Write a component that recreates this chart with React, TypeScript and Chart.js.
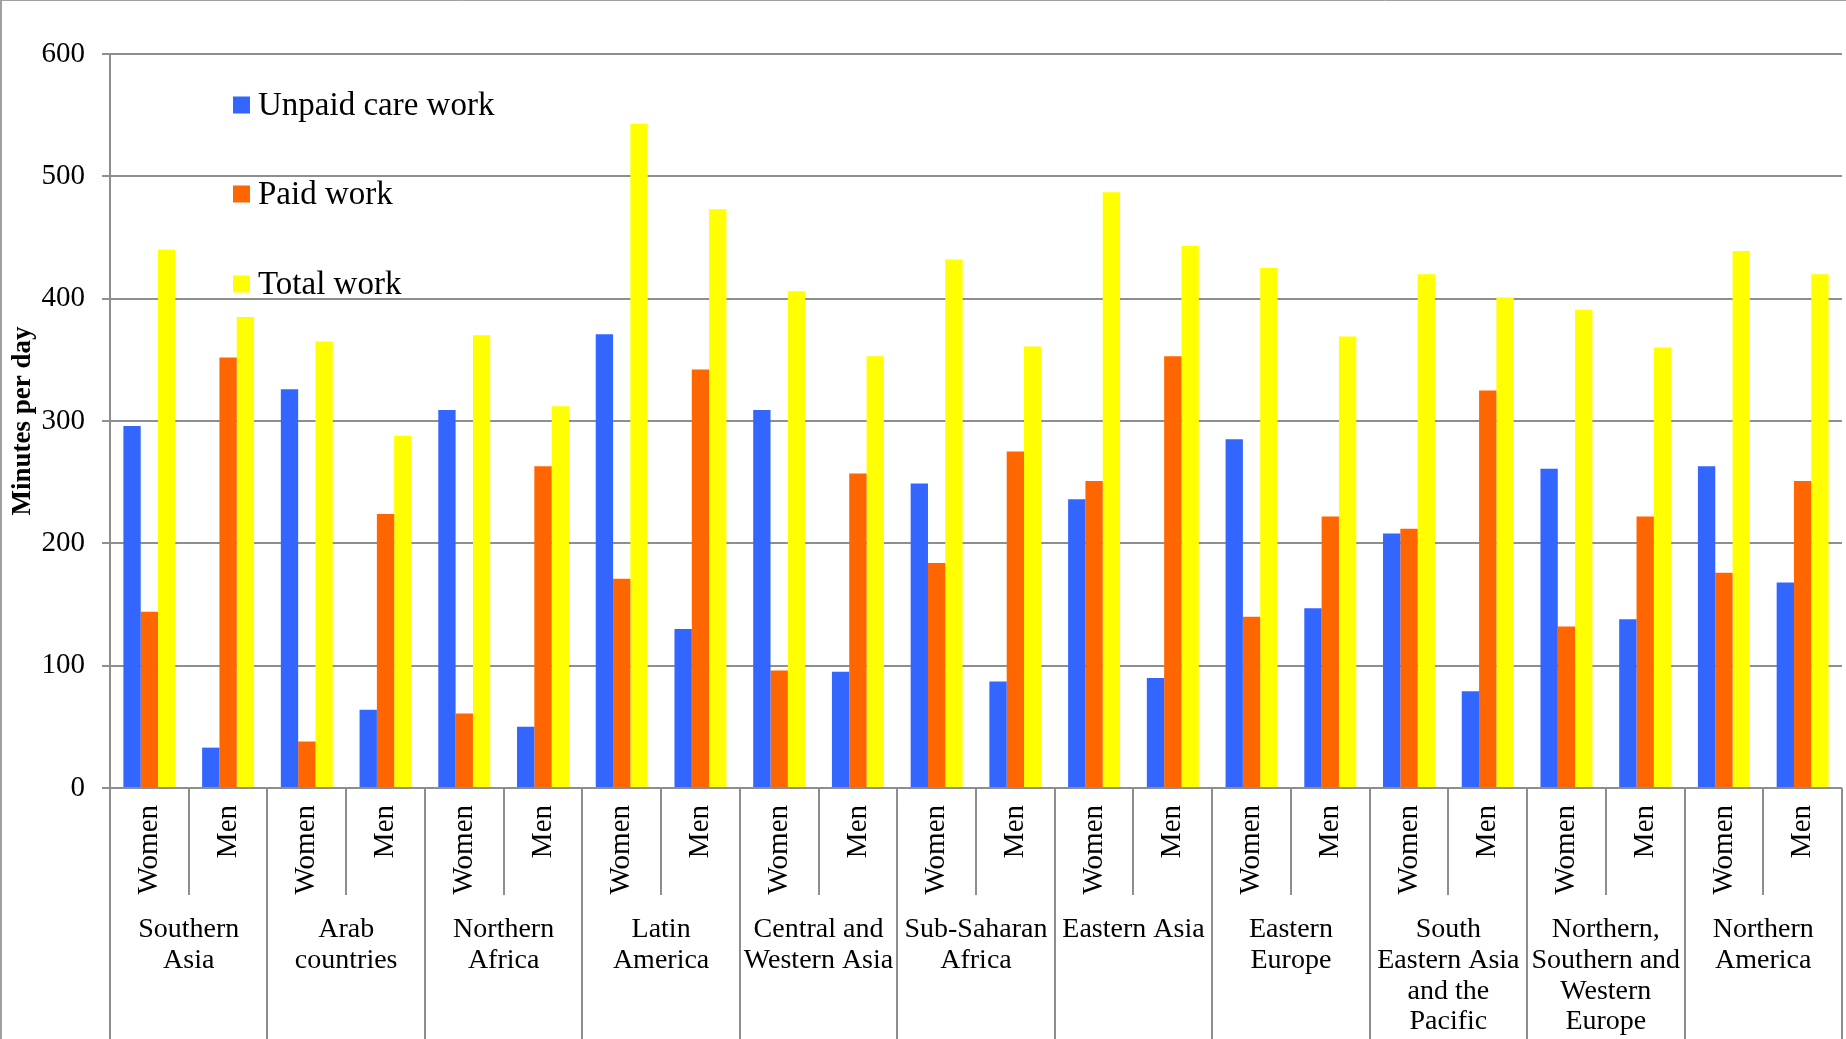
import React, { useEffect, useRef } from "react";
import { Chart, registerables } from "chart.js";

Chart.register(...registerables);

const regionLines: string[][] = [
  ["Southern", "Asia"],
  ["Arab", "countries"],
  ["Northern", "Africa"],
  ["Latin", "America"],
  ["Central and", "Western Asia"],
  ["Sub-Saharan", "Africa"],
  ["Eastern Asia"],
  ["Eastern", "Europe"],
  ["South", "Eastern Asia", "and the", "Pacific"],
  ["Northern,", "Southern and", "Western", "Europe"],
  ["Northern", "America"],
];
const sexes = ["Women", "Men"];

const unpaidCare = [296, 33, 326, 64, 309, 50, 371, 130, 309, 95, 249, 87, 236, 90, 285, 147, 208, 79, 261, 138, 263, 168];
const paidWork = [144, 352, 38, 224, 61, 263, 171, 342, 96, 257, 184, 275, 251, 353, 140, 222, 212, 325, 132, 222, 176, 251];
const totalWork = [440, 385, 365, 288, 370, 312, 543, 473, 406, 353, 432, 361, 487, 443, 425, 369, 420, 401, 391, 360, 439, 420];

const yTicks = [0, 100, 200, 300, 400, 500, 600];

const FONT = "'Liberation Serif', 'Times New Roman', serif";
const GRID = "#8e8e8e";

const axisPlugin = {
  id: "groupedAxis",
  afterDraw(chart: any) {
    const ctx = chart.ctx;
    const x = chart.scales.x;
    const area = chart.chartArea;
    const H = chart.height;
    const n = x.getLabels().length;
    const px = (i: number) => x.getPixelForValue(i);
    ctx.save();
    // frame lines
    ctx.strokeStyle = "#a0a0a0";
    ctx.lineWidth = 2;
    ctx.beginPath();
    ctx.moveTo(1, 0);
    ctx.lineTo(1, H);
    ctx.stroke();
    ctx.lineWidth = 1;
    ctx.beginPath();
    ctx.moveTo(0, 0.5);
    ctx.lineTo(chart.width, 0.5);
    ctx.stroke();

    // dividers
    ctx.strokeStyle = GRID;
    ctx.lineWidth = 2;
    for (let i = 0; i <= n; i++) {
      let bx: number;
      if (i === 0) bx = x.left;
      else if (i === n) bx = x.right;
      else bx = (px(i - 1) + px(i)) / 2;
      const bottom = i % 2 === 1 ? area.bottom + 107 : H;
      ctx.beginPath();
      ctx.moveTo(Math.round(bx), area.bottom);
      ctx.lineTo(Math.round(bx), bottom);
      ctx.stroke();
    }

    // sex labels rotated
    ctx.fillStyle = "#000";
    ctx.font = `29px ${FONT}`;
    ctx.textAlign = "right";
    ctx.textBaseline = "middle";
    const labels = x.getLabels();
    for (let i = 0; i < n; i++) {
      ctx.save();
      ctx.translate(px(i), area.bottom + 17);
      ctx.rotate(-Math.PI / 2);
      ctx.fillText(String(labels[i]), 0, 0);
      ctx.restore();
    }

    // region labels
    ctx.font = `28px ${FONT}`;
    ctx.textAlign = "center";
    regionLines.forEach((lines, g) => {
      const cx = (px(2 * g) + px(2 * g + 1)) / 2;
      lines.forEach((t, k) => {
        ctx.fillText(t, cx, area.bottom + 142 + k * 30.6);
      });
    });

    // legend
    const ds = chart.data.datasets;
    ctx.font = `33px ${FONT}`;
    ctx.textAlign = "left";
    const ly = [area.top + 51, area.top + 140, area.top + 230];
    ds.forEach((d: any, k: number) => {
      ctx.fillStyle = d.backgroundColor;
      ctx.fillRect(233, ly[k] - 8.5, 17, 17);
      ctx.fillStyle = "#000";
      ctx.fillText(d.label, 258, ly[k] + 1);
    });
    ctx.restore();
  },
};

export default function App() {
  const ref = useRef<HTMLCanvasElement>(null);
  useEffect(() => {
    if (!ref.current) return;
    const labels = regionLines.flatMap(() => sexes);
    const chart = new Chart(ref.current, {
      type: "bar",
      data: {
        labels,
        datasets: [
          { label: "Unpaid care work", data: unpaidCare, backgroundColor: "#3366FF" },
          { label: "Paid work", data: paidWork, backgroundColor: "#FF6600" },
          { label: "Total work", data: totalWork, backgroundColor: "#FFFF00" },
        ],
      },
      options: {
        animation: false,
        responsive: true,
        maintainAspectRatio: false,
        datasets: { bar: { categoryPercentage: 0.66, barPercentage: 1.0 } },
        layout: { padding: { top: 54, right: 4, bottom: 251, left: 0 } },
        plugins: { legend: { display: false }, tooltip: { enabled: false } },
        scales: {
          x: { display: false },
          y: {
            min: 0,
            max: 600,
            afterFit: (s: any) => {
              s.width = 110;
            },
            afterBuildTicks: (s: any) => {
              s.ticks = yTicks.map((v) => ({ value: v }));
            },
            grid: { color: GRID, lineWidth: 2, tickLength: 8 },
            border: { color: GRID, width: 2 },
            ticks: {
              color: "#000",
              padding: 17,
              font: { family: FONT, size: 29 },
            },
            title: {
              display: true,
              text: "Minutes per day",
              color: "#000",
              padding: { top: 7, bottom: 0 },
              font: { family: FONT, size: 27, weight: "bold" },
            },
          },
        },
      },
      plugins: [axisPlugin],
    });
    return () => chart.destroy();
  }, []);
  return (
    <div style={{ position: "fixed", left: 0, top: 0, width: 1846, height: 1039, background: "#fff" }}>
      <canvas ref={ref} />
    </div>
  );
}
